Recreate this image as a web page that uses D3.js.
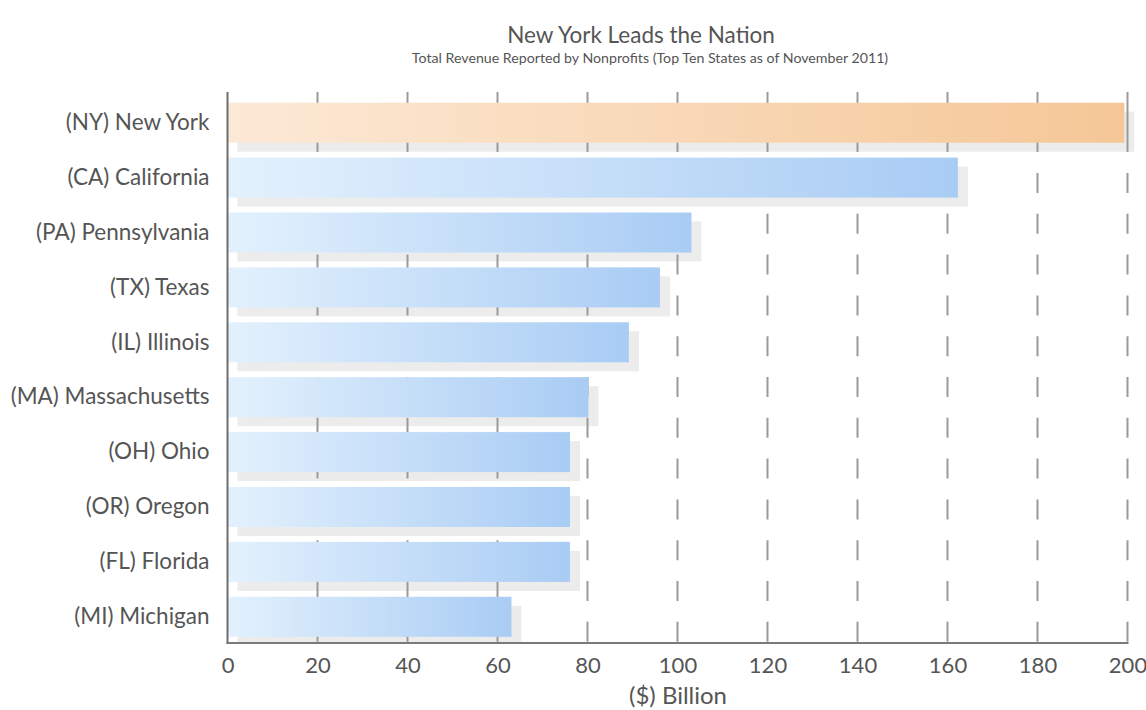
<!DOCTYPE html>
<html><head><meta charset="utf-8">
<script src="https://cdn.jsdelivr.net/npm/d3@7"></script>
<style>body{margin:0;background:#fff;}svg{display:block;}</style>
</head><body>
<svg id="chart" width="1146" height="710"></svg>
<script>
const states = ["(NY) New York","(CA) California","(PA) Pennsylvania","(TX) Texas","(IL) Illinois","(MA) Massachusetts","(OH) Ohio","(OR) Oregon","(FL) Florida","(MI) Michigan"];
const revenue = [199.3, 162.3, 103.1, 96.1, 89.2, 80.2, 76.1, 76.1, 76.1, 63.1];
const highlight = ["(NY) New York"];
const xTicks = [0,20,40,60,80,100,120,140,160,180,200];
const titleText = "New York Leads the Nation";
const subtitleText = "Total Revenue Reported by Nonprofits (Top Ten States as of November 2011)";
const xLabel = "($) Billion";

const svg = d3.select("#chart");
const font = "Lato, 'Open Sans', sans-serif";
const plotTop = 92, plotBottom = 643;
const x = d3.scaleLinear().domain([0,200]).range([227.5, 1127.5]);
const y = d3.scaleBand().domain(states).range([102.7, 636.8]).paddingInner(0.271).paddingOuter(0);

const defs = svg.append("defs");
function grad(id, c0, c1){
  const g = defs.append("linearGradient").attr("id", id).attr("x1","0").attr("x2","1").attr("y1","0").attr("y2","0");
  g.append("stop").attr("offset","0").attr("stop-color", c0);
  g.append("stop").attr("offset","1").attr("stop-color", c1);
}
grad("gBlue", "#e3f1fd", "#a9ccf4");
grad("gOrange", "#fce9d6", "#f5c797");

// title
svg.append("text").attr("x", 641).attr("y", 43).attr("text-anchor","middle")
  .attr("font-family", font).attr("font-size", 22.5).attr("fill","#555").text(titleText);
svg.append("text").attr("x", 650).attr("y", 63).attr("text-anchor","middle")
  .attr("font-family", font).attr("font-size", 14.2).attr("fill","#555").text(subtitleText);

const data = states.map((s,i)=>({state:s, value:revenue[i]}));

// shadows
svg.append("g").selectAll("rect").data(data).join("rect")
  .attr("x", x(0)+10).attr("y", d=>y(d.state)+9)
  .attr("width", d=>x(d.value)-x(0))
  .attr("height", d=>Math.min(y.bandwidth(), plotBottom - (y(d.state)+9)))
  .attr("fill", "#ececec");

// gridlines
const gl = svg.append("g");
xTicks.filter(t=>t>0).forEach(t=>{
  gl.append("line").attr("x1", x(t)).attr("x2", x(t)).attr("y1", plotTop).attr("y2", plotTop+60)
    .attr("stroke","#9a9a9a").attr("stroke-width",2);
  gl.append("line").attr("x1", x(t)).attr("x2", x(t)).attr("y1", plotTop+81).attr("y2", plotBottom)
    .attr("stroke","#9a9a9a").attr("stroke-width",2).attr("stroke-dasharray","20 20.8");
});

// bars
svg.append("g").selectAll("rect").data(data).join("rect")
  .attr("x", x(0)).attr("y", d=>y(d.state))
  .attr("width", d=>x(d.value)-x(0)).attr("height", y.bandwidth())
  .attr("fill", d=> highlight.includes(d.state) ? "url(#gOrange)" : "url(#gBlue)");

// axes lines
svg.append("line").attr("x1", x(0)).attr("x2", x(0)).attr("y1", plotTop).attr("y2", plotBottom+1)
  .attr("stroke","#6e6e6e").attr("stroke-width",2);
svg.append("line").attr("x1", x(0)-1).attr("x2", x(200)+1).attr("y1", plotBottom).attr("y2", plotBottom)
  .attr("stroke","#7a7a7a").attr("stroke-width",2);

// x tick labels
const xAxis = d3.axisBottom(x).tickValues(xTicks).tickSize(0).tickPadding(0).tickFormat(d3.format("d"));
const xg = svg.append("g").attr("transform", `translate(0,${plotBottom})`).call(xAxis);
xg.select(".domain").remove();
xg.selectAll("text").attr("font-family", font).attr("font-size", 22).attr("fill","#555")
  .attr("dy", null).attr("y", 30);

// y labels
const yAxis = d3.axisLeft(y).tickSize(0).tickPadding(18);
const yg = svg.append("g").attr("transform", `translate(${x(0)},0)`).call(yAxis);
yg.select(".domain").remove();
yg.selectAll("text").attr("font-family", font).attr("font-size", 22.5).attr("fill","#555");

svg.append("text").attr("x", 678).attr("y", 704).attr("text-anchor","middle")
  .attr("font-family", font).attr("font-size", 24).attr("fill","#555").text(xLabel);
</script>
</body></html>
